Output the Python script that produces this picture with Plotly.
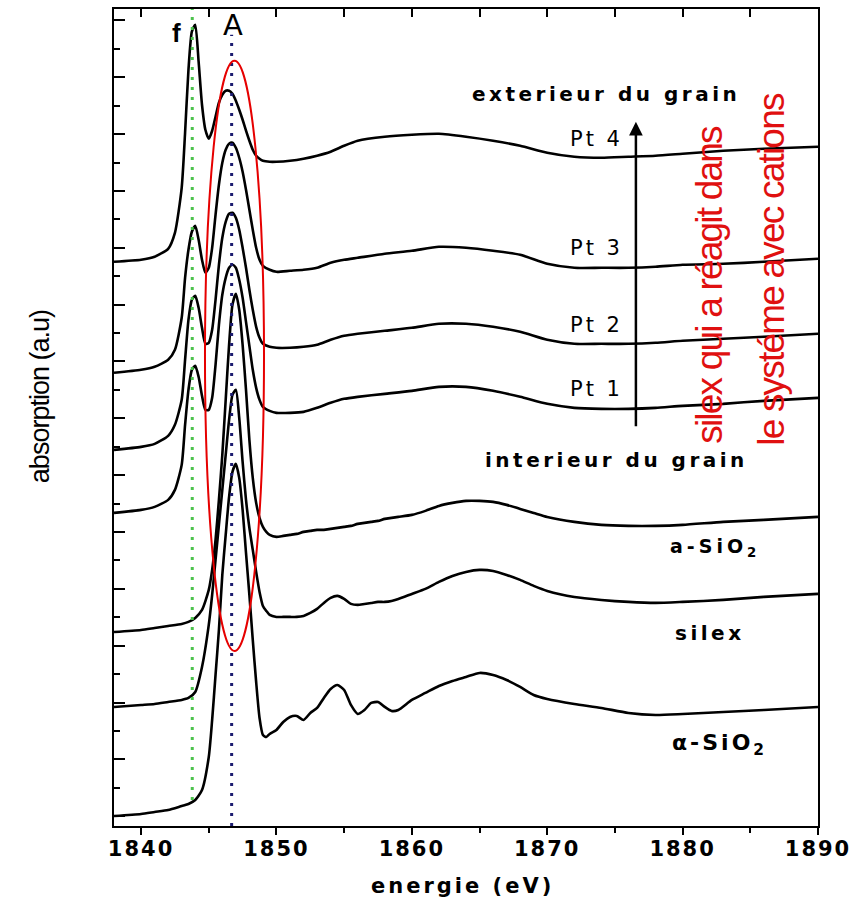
import plotly.graph_objects as go

# ---------------- data (energies in eV, absorption in arbitrary units, already offset) ----------------
E_pt = [1838, 1840, 1841, 1842, 1842.5, 1843, 1843.25, 1843.5, 1843.75, 1844, 1844.25, 1844.5, 1844.75,
        1845, 1845.25, 1845.5, 1845.75, 1846, 1846.25, 1846.5, 1846.75, 1847, 1847.25, 1847.5, 1847.75,
        1848, 1848.25, 1848.5, 1848.75, 1849, 1849.5, 1850, 1851, 1852, 1853, 1854, 1855, 1856, 1858,
        1860, 1862, 1864, 1866, 1868, 1870, 1872, 1874, 1876, 1878, 1880, 1883, 1886, 1890]

pt4 = [56.4, 56.6, 56.9, 57.7, 59.3, 63.8, 69.3, 75.6, 79.4, 80.1, 76.4, 72.1, 69.6,
       68.7, 69.5, 70.9, 72.3, 73.1, 73.5, 73.5, 73.2, 72.5, 71.6, 70.6, 69.5,
       68.5, 67.6, 67.0, 66.7, 66.5, 66.4, 66.4, 66.5, 66.7, 67.0, 67.4, 68.0, 68.5, 68.9,
       69.1, 69.2, 68.9, 68.5, 68.0, 67.3, 66.9, 66.8, 66.9, 67.0, 67.2, 67.5, 67.7, 67.9]

pt3 = [45.3, 45.6, 45.9, 46.6, 47.6, 50.8, 54.8, 57.6, 59.4, 60.0, 58.6, 56.6, 55.3,
       55.8, 57.8, 61.1, 64.1, 66.3, 67.6, 68.2, 68.3, 67.8, 66.8, 65.4, 63.6,
       61.6, 59.6, 57.8, 56.6, 56.0, 55.6, 55.4, 55.5, 55.6, 55.8, 56.3, 56.6, 56.8, 57.2,
       57.5, 57.9, 57.8, 57.5, 57.1, 56.2, 55.8, 55.8, 55.8, 55.9, 56.1, 56.2, 56.4, 56.7]

pt2 = [37.6, 37.9, 38.2, 39.0, 40.1, 42.6, 46.6, 50.6, 52.6, 53.0, 51.8, 49.8, 48.2,
       48.3, 49.6, 52.6, 56.1, 58.8, 60.4, 61.2, 61.3, 60.8, 59.6, 57.8, 55.8,
       53.6, 51.6, 49.9, 48.8, 48.2, 47.9, 47.8, 47.8, 47.9, 48.1, 48.6, 49.0, 49.2, 49.5,
       49.8, 50.2, 50.2, 49.9, 49.4, 48.6, 48.2, 48.2, 48.2, 48.3, 48.5, 48.7, 48.9, 49.2]

pt1 = [31.3, 31.6, 31.9, 32.6, 33.6, 36.1, 40.1, 43.6, 45.6, 46.0, 44.9, 43.0, 41.6,
       41.6, 42.8, 46.1, 50.1, 53.1, 54.8, 55.8, 56.1, 55.8, 54.6, 52.8, 50.4,
       48.0, 45.6, 43.8, 42.6, 41.9, 41.5, 41.3, 41.3, 41.4, 41.8, 42.3, 42.7, 42.9, 43.2,
       43.5, 43.9, 43.9, 43.5, 42.9, 42.2, 41.8, 41.7, 41.7, 41.8, 42.0, 42.2, 42.5, 42.8]

E_ref = [1838, 1840, 1841, 1842, 1843, 1843.5, 1844, 1844.5,
         1845, 1845.25, 1845.5, 1845.75, 1846, 1846.25, 1846.5, 1846.75, 1847, 1847.25, 1847.5,
         1847.75, 1848, 1848.25, 1848.5, 1848.75, 1849, 1849.25, 1849.5,
         1850, 1850.5, 1851, 1851.5, 1852, 1852.5, 1853, 1853.5, 1854, 1854.5, 1855, 1855.5,
         1856, 1856.5, 1857, 1857.5, 1858, 1858.5, 1859,
         1860, 1861, 1862, 1863, 1864, 1865, 1866, 1867, 1868, 1869, 1870,
         1872, 1874, 1876, 1878, 1880, 1883, 1886, 1890]

a_sio2 = [19.4, 19.6, 19.8, 20.0, 20.2, 20.4, 20.8, 21.6,
          23.6, 25.6, 28.6, 32.6, 37.1, 42.6, 48.1, 52.1, 53.2, 51.6, 48.1,
          43.6, 38.6, 34.8, 32.3, 30.8, 29.9, 29.4, 29.1,
          28.9, 29.0, 29.1, 29.2, 29.4, 29.5, 29.6, 29.6, 29.7, 29.8, 29.9, 30.0,
          30.2, 30.3, 30.4, 30.5, 30.7, 30.8, 30.9,
          31.1, 31.5, 32.0, 32.3, 32.5, 32.5, 32.4, 32.1, 31.7, 31.3, 30.9,
          30.4, 30.1, 30.0, 30.0, 30.1, 30.4, 30.6, 30.9]

silex = [11.9, 12.1, 12.2, 12.4, 12.6, 12.8, 13.4, 15.9,
         20.1, 23.1, 26.6, 30.1, 33.6, 37.1, 40.6, 43.1, 43.6, 40.8, 36.4,
         32.6, 29.8, 27.6, 25.4, 23.4, 22.0, 21.5, 21.1,
         20.9, 20.9, 20.9, 20.9, 21.0, 21.3, 21.7, 22.3, 22.8, 23.0, 22.7, 22.2,
         22.1, 22.2, 22.3, 22.4, 22.4, 22.5, 22.7,
         23.2, 23.7, 24.4, 25.0, 25.4, 25.6, 25.5, 25.1, 24.6, 24.0, 23.5,
         22.9, 22.6, 22.4, 22.3, 22.4, 22.6, 22.9, 23.2]

alpha_sio2 = [1.0, 1.2, 1.4, 1.6, 2.0, 2.2, 2.6, 3.6,
              6.9, 10.6, 15.1, 19.6, 25.1, 29.1, 32.9, 35.4, 36.2, 34.8, 31.6,
              27.3, 23.1, 18.6, 14.4, 10.8, 9.1, 8.9, 9.2,
              9.6, 10.4, 10.9, 11.0, 10.6, 11.3, 11.8, 12.8, 13.7, 14.1, 13.6, 12.1,
              11.2, 11.6, 12.3, 12.4, 11.9, 11.5, 11.6,
              12.6, 13.3, 14.0, 14.5, 14.9, 15.3, 15.1, 14.6, 13.9, 13.1, 12.7,
              12.2, 11.8, 11.3, 11.1, 11.2, 11.4, 11.6, 11.9]

x_ticks = [1840, 1850, 1860, 1870, 1880, 1890]
f_energy = 1843.78
A_energy = 1846.69

# ---------------- figure ----------------
fig = go.Figure()
for E, ys in [(E_pt, pt4), (E_pt, pt3), (E_pt, pt2), (E_pt, pt1),
              (E_ref, a_sio2), (E_ref, silex), (E_ref, alpha_sio2)]:
    fig.add_trace(go.Scatter(x=E, y=ys, mode="lines",
                             line=dict(color="black", width=2.6, shape="spline", smoothing=0.6),
                             hoverinfo="skip", showlegend=False))

# invisible trace for the top axis
fig.add_trace(go.Scatter(x=[1838], y=[0], xaxis="x2", yaxis="y", mode="markers",
                         marker=dict(opacity=0), hoverinfo="skip", showlegend=False))

def ls(t, px):
    return f'<span style="letter-spacing:{px}px">{t}</span>'

BOLD = dict(family="DejaVu Sans", size=20, color="black", weight="bold")
NARROW = "Liberation Sans Narrow, Arial Narrow, Liberation Sans, sans-serif"

# dotted lines & ellipse
fig.add_shape(type="line", x0=f_energy, x1=f_energy, y0=2.6, y1=81.7,
              line=dict(color="#4cc24c", width=3, dash="3px,7px"))
fig.add_shape(type="line", x0=A_energy, x1=A_energy, y0=0, y1=79.1,
              line=dict(color="#1c1c70", width=3, dash="3px,7px"))
fig.add_shape(type="circle", x0=1844.72, x1=1849.08, y0=17.5, y1=76.5,
              line=dict(color="#e60000", width=2))

ann = []
ann.append(dict(x=1842.58, y=79.3, text="f", showarrow=False,
                font=dict(family="Liberation Sans", size=26, color="black", weight="bold")))
ann.append(dict(x=1846.79, y=80.1, text="A", showarrow=False,
                font=dict(family="DejaVu Sans", size=29, color="black")))
ann.append(dict(x=1874.37, y=73.2, text=ls("exterieur du grain", 3.5), showarrow=False, font=BOLD))
ann.append(dict(x=1875.15, y=36.6, text=ls("interieur du grain", 3.5), showarrow=False, font=BOLD))
for lab, yy in [("Pt 4", 68.65), ("Pt 3", 57.8), ("Pt 2", 50.1), ("Pt 1", 43.7)]:
    ann.append(dict(x=1875.74, y=yy, text=ls(lab, 3), showarrow=False, xanchor="right",
                    font=dict(family="DejaVu Sans", size=21, color="black")))
ann.append(dict(x=1876.55, y=70.4, ax=1876.55, ay=39.8, axref="x", ayref="y", text="",
                showarrow=True, arrowhead=2, arrowsize=1.1, arrowwidth=2.5, arrowcolor="black"))
ann.append(dict(x=1878.9, y=27.8, text=ls("a-SiO<sub>2</sub>", 4), showarrow=False, xanchor="left",
                font=dict(family="DejaVu Sans", size=19, color="black", weight="bold")))
ann.append(dict(x=1882.0, y=19.3, text=ls("silex", 3.5), showarrow=False,
                font=dict(family="DejaVu Sans", size=20, color="black", weight="bold")))
ann.append(dict(x=1879.06, y=8.1, text=ls("α-SiO<sub>2</sub>", 3), showarrow=False, xanchor="left",
                font=dict(family="DejaVu Sans", size=22, color="black", weight="bold")))
ann.append(dict(x=1882.02, y=54.1, text=ls("silex qui a réagit dans", -1.8), textangle=-90,
                showarrow=False, font=dict(family=NARROW, size=37, color="#e01010")))
ann.append(dict(x=1886.6, y=55.7, text=ls("le systéme avec cations", -1.8), textangle=-90,
                showarrow=False, font=dict(family=NARROW, size=37, color="#e01010")))
ann.append(dict(xref="paper", yref="paper", x=0.4957, y=-0.0735, xanchor="center", yanchor="middle",
                text=ls("energie (eV)", 3), showarrow=False,
                font=dict(family="DejaVu Sans", size=21, color="black", weight="bold")))
ann.append(dict(xref="paper", yref="paper", x=-0.105, y=0.525, xanchor="center", yanchor="middle",
                text=ls("absorption (a.u)", -1), textangle=-90, showarrow=False,
                font=dict(family=NARROW, size=27, color="black")))

fig.update_layout(
    width=861, height=901, autosize=False,
    margin=dict(l=114, r=43, t=9, b=75),
    paper_bgcolor="white", plot_bgcolor="white",
    annotations=ann,
    xaxis=dict(range=[1838, 1890], showline=True, linecolor="black", linewidth=2, mirror=False,
               showgrid=False, zeroline=False, ticks="outside", ticklen=7, tickwidth=2, tickcolor="black",
               tickvals=x_ticks, ticktext=[ls(str(v), 2) for v in x_ticks], ticklabelstandoff=-4,
               tickfont=dict(family="DejaVu Sans", size=21, color="black", weight="bold"),
               minor=dict(dtick=5, tick0=1835, ticks="outside", ticklen=5, tickwidth=2, tickcolor="black")),
    xaxis2=dict(range=[1838, 1890], overlaying="x", side="top", showline=True, linecolor="black",
                linewidth=2, showgrid=False, zeroline=False, ticks="inside", ticklen=8, tickwidth=1.5,
                tickcolor="black", dtick=5, tick0=1835, showticklabels=False),
    yaxis=dict(range=[0, 81.67], showline=True, linecolor="black", linewidth=2, mirror=True,
               showgrid=False, zeroline=False, showticklabels=False,
               ticks="inside", ticklen=11, tickwidth=1.5, tickcolor="black", tick0=6.66, dtick=5.682,
               minor=dict(tick0=3.82, dtick=2.841, ticks="inside", ticklen=6, tickwidth=1.5,
                          tickcolor="black")),
)

fig.write_html("out.html", config={"displayModeBar": False},
               post_script="document.body.style.margin='0px';")
